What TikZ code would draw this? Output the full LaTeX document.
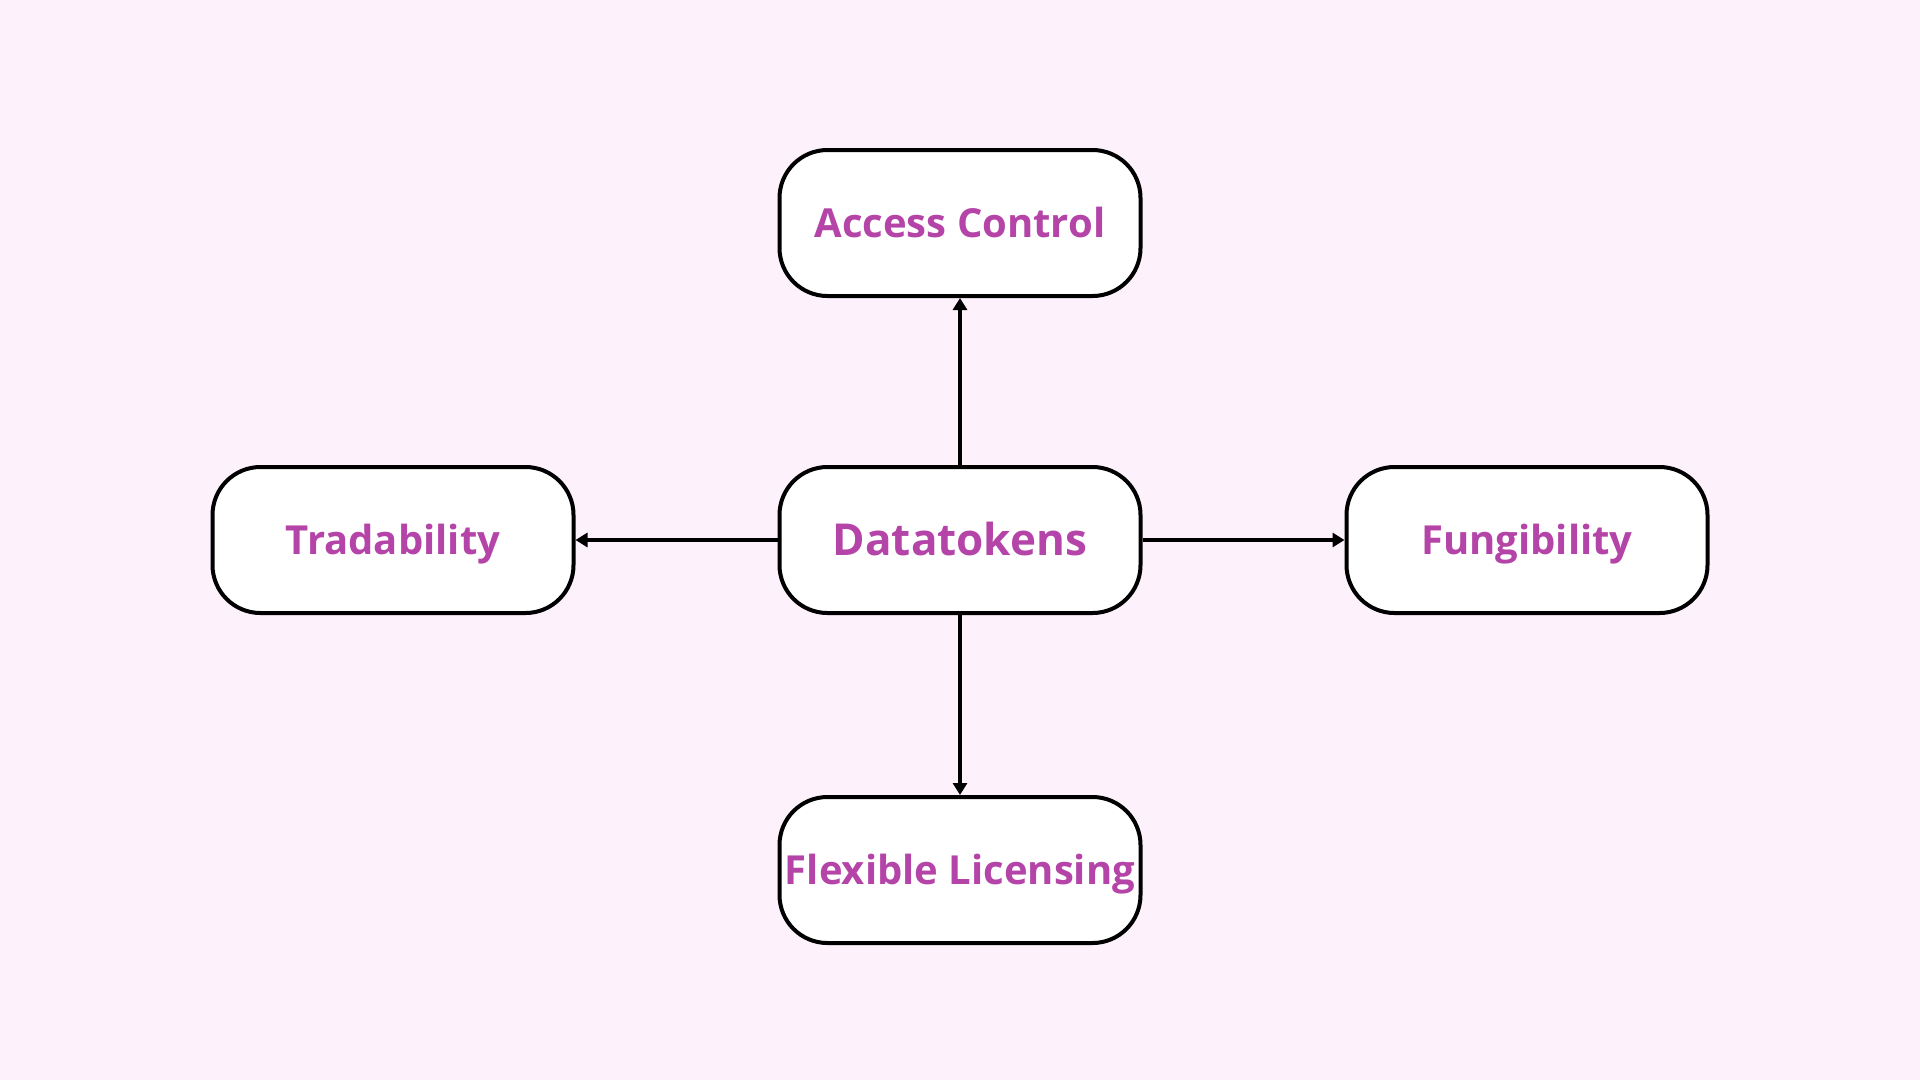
\documentclass[tikz,border=0pt]{standalone}
\usepackage{fontspec}
\setmainfont{Open Sans}
\usetikzlibrary{arrows.meta}
\definecolor{bgpink}{RGB}{253,242,252}
\definecolor{txtpink}{RGB}{180,68,168}
\tikzset{
  box/.style={draw=black, line width=4pt, fill=white, rounded corners=48pt,
    minimum width=361pt, minimum height=146pt, inner sep=0pt,
    text height=36pt, text depth=7.4pt,
    text=txtpink, font=\bfseries\fontsize{40}{46}\selectfont},
  bigbox/.style={box, text height=39pt, text depth=7.6pt,
    font=\bfseries\fontsize{44}{50}\selectfont},
  conn/.style={line width=3.5pt, -{Triangle[length=12pt,width=14pt]}}
}
\begin{document}
\begin{tikzpicture}[x=1pt,y=-1pt]
\fill[bgpink] (0,0) rectangle (1920,1080);
\useasboundingbox (0,0) rectangle (1920,1080);
\node[bigbox] (dt) at (960,540) {Datatokens};
\node[box] (ac) at (960,223) {Access Control};
\node[box] (tr) at (393,540) {Tradability};
\node[box] (fu) at (1527,540) {Fungibility};
\node[box] (fl) at (960,870) {Flexible Licensing};
\draw[conn] (dt.north) -- (ac.south);
\draw[conn] (dt.south) -- (fl.north);
\draw[conn] (dt.west) -- (tr.east);
\draw[conn] (dt.east) -- (fu.west);
\end{tikzpicture}
\end{document}
